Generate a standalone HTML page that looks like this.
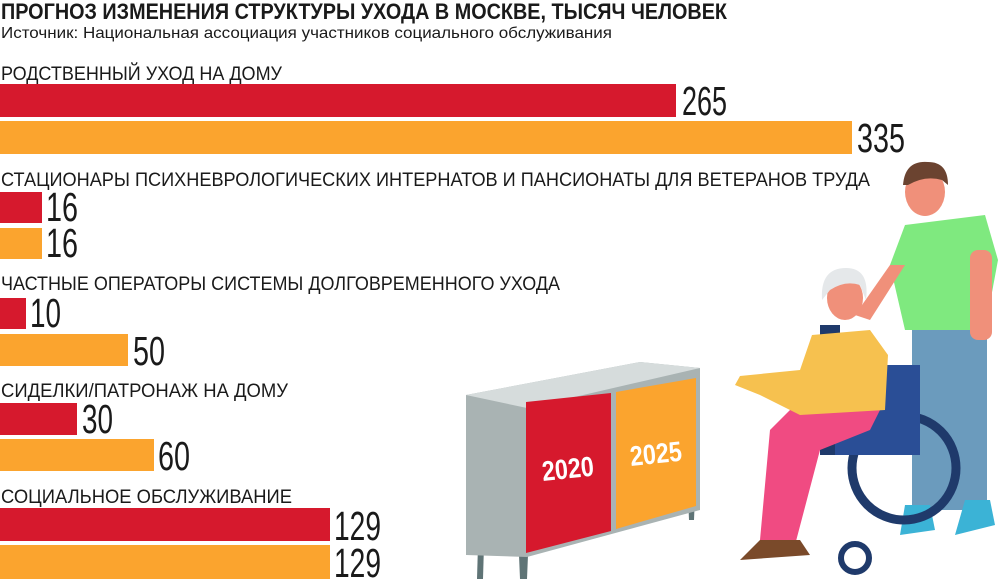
<!DOCTYPE html>
<html><head><meta charset="utf-8"><style>html,body{margin:0;padding:0;background:#fff;}svg{display:block}</style></head>
<body>
<svg width="1000" height="579" viewBox="0 0 1000 579" xmlns="http://www.w3.org/2000/svg">
<g font-family="Liberation Sans, sans-serif" fill="#1a1a1a">
<text x="1" y="19" font-size="22" font-weight="bold" textLength="726" lengthAdjust="spacingAndGlyphs">ПРОГНОЗ ИЗМЕНЕНИЯ СТРУКТУРЫ УХОДА В МОСКВЕ, ТЫСЯЧ ЧЕЛОВЕК</text>
<text x="1" y="38" font-size="16" textLength="611" lengthAdjust="spacingAndGlyphs">Источник: Национальная ассоциация участников социального обслуживания</text>
<g font-size="19">
<text x="1" y="80" textLength="281" lengthAdjust="spacingAndGlyphs">РОДСТВЕННЫЙ УХОД НА ДОМУ</text>
<text x="1" y="186" textLength="869" lengthAdjust="spacingAndGlyphs">СТАЦИОНАРЫ ПСИХНЕВРОЛОГИЧЕСКИХ ИНТЕРНАТОВ И ПАНСИОНАТЫ ДЛЯ ВЕТЕРАНОВ ТРУДА</text>
<text x="1" y="290" textLength="559" lengthAdjust="spacingAndGlyphs">ЧАСТНЫЕ ОПЕРАТОРЫ СИСТЕМЫ ДОЛГОВРЕМЕННОГО УХОДА</text>
<text x="1" y="397" textLength="287" lengthAdjust="spacingAndGlyphs">СИДЕЛКИ/ПАТРОНАЖ НА ДОМУ</text>
<text x="1" y="503" textLength="291" lengthAdjust="spacingAndGlyphs">СОЦИАЛЬНОЕ ОБСЛУЖИВАНИЕ</text>
</g>
</g>
<g>
<rect x="0" y="84" width="676" height="33" fill="#D6192D"/>
<rect x="0" y="121" width="852" height="33" fill="#FBA42E"/>
<rect x="0" y="192" width="42" height="31" fill="#D6192D"/>
<rect x="0" y="228" width="42" height="31" fill="#FBA42E"/>
<rect x="0" y="298" width="26" height="31" fill="#D6192D"/>
<rect x="0" y="334" width="128" height="32" fill="#FBA42E"/>
<rect x="0" y="403" width="77" height="32" fill="#D6192D"/>
<rect x="0" y="439" width="154" height="32" fill="#FBA42E"/>
<rect x="0" y="508" width="330" height="33" fill="#D6192D"/>
<rect x="0" y="545" width="330" height="34" fill="#FBA42E"/>
</g>
<g font-family="Liberation Sans, sans-serif" font-size="41" fill="#1a1a1a">
<text x="682" y="115" textLength="45" lengthAdjust="spacingAndGlyphs">265</text>
<text x="857" y="152" textLength="48" lengthAdjust="spacingAndGlyphs">335</text>
<text x="46" y="221" textLength="32" lengthAdjust="spacingAndGlyphs">16</text>
<text x="46" y="257" textLength="32" lengthAdjust="spacingAndGlyphs">16</text>
<text x="30" y="327" textLength="31" lengthAdjust="spacingAndGlyphs">10</text>
<text x="133" y="365" textLength="32" lengthAdjust="spacingAndGlyphs">50</text>
<text x="82" y="433" textLength="31" lengthAdjust="spacingAndGlyphs">30</text>
<text x="158" y="470" textLength="32" lengthAdjust="spacingAndGlyphs">60</text>
<text x="334" y="540" textLength="47" lengthAdjust="spacingAndGlyphs">129</text>
<text x="334" y="577" textLength="47" lengthAdjust="spacingAndGlyphs">129</text>
</g>
<!-- cabinet -->
<g>
<polygon points="478,545 484,545 483,579 477,579" fill="#5f7476"/>
<polygon points="519,555 528,555 527,579 520,579" fill="#5f7476"/>
<polygon points="688,495 695,495 694,520 689,520" fill="#5f7476"/>
<polygon points="466,395 466,555 527,557 700,510 700,368 640,362" fill="#a9b3b3"/>
<polygon points="466,395 640,362 700,368 527,408" fill="#d6dcdc"/>
<polygon points="526,402 526,553 611,531 611,393" fill="#D6192D"/>
<polygon points="616,392 616,529 696,506 696,378" fill="#FBA42E"/>
<text x="0" y="0" transform="translate(543,481) rotate(-6)" font-family="Liberation Sans, sans-serif" font-weight="bold" font-size="28" fill="#fff" textLength="52" lengthAdjust="spacingAndGlyphs">2020</text>
<text x="0" y="0" transform="translate(631,466) rotate(-6)" font-family="Liberation Sans, sans-serif" font-weight="bold" font-size="28" fill="#fff" textLength="52" lengthAdjust="spacingAndGlyphs">2025</text>
</g>
<!-- man -->
<g>
<rect x="912" y="320" width="75" height="190" fill="#6b9bbd"/>
<polygon points="905,505 930,505 935,530 900,535" fill="#3bb3d6"/>
<polygon points="965,500 990,500 995,525 955,535" fill="#3bb3d6"/>
<polygon points="905,225 985,215 998,260 985,330 905,330 890,265" fill="#7fe97f"/>
<rect x="970" y="250" width="22" height="90" fill="#f0907a" rx="8"/>
<polygon points="890,265 905,265 870,320 855,315" fill="#f0907a"/>
<ellipse cx="925" cy="192" rx="20" ry="24" fill="#f0907a"/>
<path d="M903,185 Q905,160 928,162 Q948,162 948,185 L942,180 Q925,175 908,185 Z" fill="#6b4330"/>
</g>
<!-- wheelchair + woman -->
<g>
<circle cx="904" cy="468" r="52" fill="none" stroke="#1f3a6b" stroke-width="9"/>
<circle cx="855" cy="558" r="14" fill="none" stroke="#1f3a6b" stroke-width="6"/>
<rect x="820" y="325" width="20" height="130" fill="#1f3a6b"/>
<rect x="835" y="365" width="85" height="90" fill="#2a4e96"/>
<path d="M770,430 L760,540 L795,545 L820,450 L870,430 L880,410 L790,410 Z" fill="#f04b82"/>
<polygon points="760,540 800,540 810,555 740,560" fill="#7a4a2a"/>
<polygon points="812,335 870,330 888,355 885,410 800,415 760,395 735,385 740,376 800,370" fill="#f6c14f"/>
<ellipse cx="845" cy="298" rx="18" ry="22" fill="#f0907a"/>
<path d="M822,300 Q820,268 846,268 Q870,268 866,300 L860,285 Q845,280 830,290 Z" fill="#e5e8ea"/>
</g>
</svg>
</body></html>
